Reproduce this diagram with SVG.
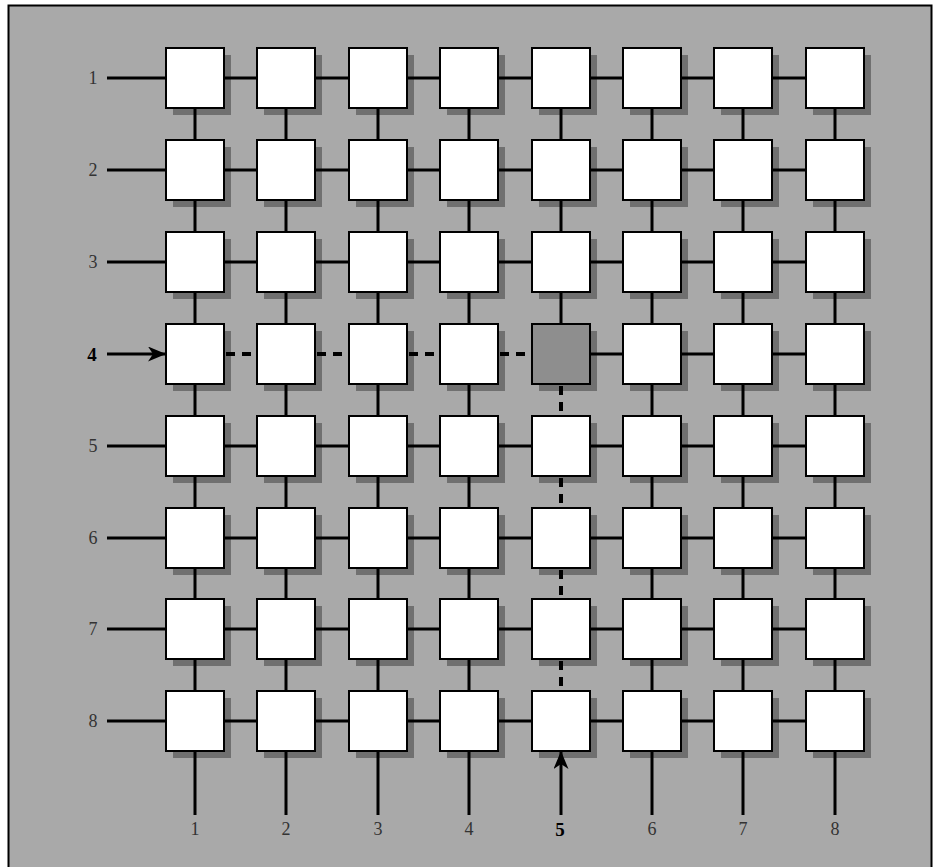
<svg xmlns="http://www.w3.org/2000/svg" width="935" height="867" viewBox="0 0 935 867">
<defs>
<style>
.box{fill:#ffffff;stroke:#000;stroke-width:2}
.hot{fill:#8e8e8e;stroke:#000;stroke-width:2}
.sh{fill:#707070}
.ln{stroke:#000;stroke-width:3;fill:none}
.dl{stroke:#000;stroke-width:4;fill:none;stroke-dasharray:9 7}
.lbl{font-family:"Liberation Serif","Times New Roman",serif;font-size:18px;fill:#333;text-anchor:middle}
.lblb{font-family:"Liberation Serif","Times New Roman",serif;font-size:19px;font-weight:bold;fill:#000;text-anchor:middle}
</style>
<marker id="ah" viewBox="0 0 18 15" refX="17" refY="7.5" markerWidth="18" markerHeight="15" markerUnits="userSpaceOnUse" orient="auto">
<path d="M0,0 L18,7.5 L0,15 L5,7.5 Z" fill="#000"/>
</marker>
</defs>
<rect x="0" y="0" width="935" height="867" fill="#fff"/>
<rect x="8.5" y="5.5" width="923" height="875" fill="#a9a9a9" stroke="#000" stroke-width="2"/>

<g id="shadows">
<g class="sh">
<rect x="173" y="55" width="58" height="60"/><rect x="264" y="55" width="58" height="60"/><rect x="356" y="55" width="58" height="60"/><rect x="447" y="55" width="58" height="60"/><rect x="539" y="55" width="58" height="60"/><rect x="630" y="55" width="58" height="60"/><rect x="721" y="55" width="58" height="60"/><rect x="813" y="55" width="58" height="60"/>
<rect x="173" y="147" width="58" height="60"/><rect x="264" y="147" width="58" height="60"/><rect x="356" y="147" width="58" height="60"/><rect x="447" y="147" width="58" height="60"/><rect x="539" y="147" width="58" height="60"/><rect x="630" y="147" width="58" height="60"/><rect x="721" y="147" width="58" height="60"/><rect x="813" y="147" width="58" height="60"/>
<rect x="173" y="239" width="58" height="60"/><rect x="264" y="239" width="58" height="60"/><rect x="356" y="239" width="58" height="60"/><rect x="447" y="239" width="58" height="60"/><rect x="539" y="239" width="58" height="60"/><rect x="630" y="239" width="58" height="60"/><rect x="721" y="239" width="58" height="60"/><rect x="813" y="239" width="58" height="60"/>
<rect x="173" y="331" width="58" height="60"/><rect x="264" y="331" width="58" height="60"/><rect x="356" y="331" width="58" height="60"/><rect x="447" y="331" width="58" height="60"/><rect x="539" y="331" width="58" height="60"/><rect x="630" y="331" width="58" height="60"/><rect x="721" y="331" width="58" height="60"/><rect x="813" y="331" width="58" height="60"/>
<rect x="173" y="423" width="58" height="60"/><rect x="264" y="423" width="58" height="60"/><rect x="356" y="423" width="58" height="60"/><rect x="447" y="423" width="58" height="60"/><rect x="539" y="423" width="58" height="60"/><rect x="630" y="423" width="58" height="60"/><rect x="721" y="423" width="58" height="60"/><rect x="813" y="423" width="58" height="60"/>
<rect x="173" y="515" width="58" height="60"/><rect x="264" y="515" width="58" height="60"/><rect x="356" y="515" width="58" height="60"/><rect x="447" y="515" width="58" height="60"/><rect x="539" y="515" width="58" height="60"/><rect x="630" y="515" width="58" height="60"/><rect x="721" y="515" width="58" height="60"/><rect x="813" y="515" width="58" height="60"/>
<rect x="173" y="606" width="58" height="60"/><rect x="264" y="606" width="58" height="60"/><rect x="356" y="606" width="58" height="60"/><rect x="447" y="606" width="58" height="60"/><rect x="539" y="606" width="58" height="60"/><rect x="630" y="606" width="58" height="60"/><rect x="721" y="606" width="58" height="60"/><rect x="813" y="606" width="58" height="60"/>
<rect x="173" y="698" width="58" height="60"/><rect x="264" y="698" width="58" height="60"/><rect x="356" y="698" width="58" height="60"/><rect x="447" y="698" width="58" height="60"/><rect x="539" y="698" width="58" height="60"/><rect x="630" y="698" width="58" height="60"/><rect x="721" y="698" width="58" height="60"/><rect x="813" y="698" width="58" height="60"/>
</g>
</g>

<g id="connectors">
<path class="ln" d="M107 78H166M224 78H257M315 78H349M407 78H440M498 78H532M590 78H623M681 78H714M772 78H806"/>
<path class="ln" d="M107 170H166M224 170H257M315 170H349M407 170H440M498 170H532M590 170H623M681 170H714M772 170H806"/>
<path class="ln" d="M107 262H166M224 262H257M315 262H349M407 262H440M498 262H532M590 262H623M681 262H714M772 262H806"/>
<path class="ln" d="M107 354H165" marker-end="url(#ah)"/>
<path class="dl" d="M226 354H257M317 354H349M409 354H440M500 354H532"/>
<path class="ln" d="M590 354H623M681 354H714M772 354H806"/>
<path class="ln" d="M107 446H166M224 446H257M315 446H349M407 446H440M498 446H532M590 446H623M681 446H714M772 446H806"/>
<path class="ln" d="M107 538H166M224 538H257M315 538H349M407 538H440M498 538H532M590 538H623M681 538H714M772 538H806"/>
<path class="ln" d="M107 629H166M224 629H257M315 629H349M407 629H440M498 629H532M590 629H623M681 629H714M772 629H806"/>
<path class="ln" d="M107 721H166M224 721H257M315 721H349M407 721H440M498 721H532M590 721H623M681 721H714M772 721H806"/>
<path class="ln" d="M195 108V140M195 200V232M195 292V324M195 384V416M195 476V508M195 568V599M195 659V691M195 751V815"/>
<path class="ln" d="M286 108V140M286 200V232M286 292V324M286 384V416M286 476V508M286 568V599M286 659V691M286 751V815"/>
<path class="ln" d="M378 108V140M378 200V232M378 292V324M378 384V416M378 476V508M378 568V599M378 659V691M378 751V815"/>
<path class="ln" d="M469 108V140M469 200V232M469 292V324M469 384V416M469 476V508M469 568V599M469 659V691M469 751V815"/>
<path class="ln" d="M561 108V140M561 200V232M561 292V324"/>
<path class="dl" d="M561 386V416M561 478V508M561 570V599M561 661V691"/>
<path class="ln" d="M561 815V752" marker-end="url(#ah)"/>
<path class="ln" d="M652 108V140M652 200V232M652 292V324M652 384V416M652 476V508M652 568V599M652 659V691M652 751V815"/>
<path class="ln" d="M743 108V140M743 200V232M743 292V324M743 384V416M743 476V508M743 568V599M743 659V691M743 751V815"/>
<path class="ln" d="M835 108V140M835 200V232M835 292V324M835 384V416M835 476V508M835 568V599M835 659V691M835 751V815"/>
</g>

<g id="nodes">
<g id="n11"><rect class="box" x="166" y="48" width="58" height="60"/></g>
<g id="n12"><rect class="box" x="257" y="48" width="58" height="60"/></g>
<g id="n13"><rect class="box" x="349" y="48" width="58" height="60"/></g>
<g id="n14"><rect class="box" x="440" y="48" width="58" height="60"/></g>
<g id="n15"><rect class="box" x="532" y="48" width="58" height="60"/></g>
<g id="n16"><rect class="box" x="623" y="48" width="58" height="60"/></g>
<g id="n17"><rect class="box" x="714" y="48" width="58" height="60"/></g>
<g id="n18"><rect class="box" x="806" y="48" width="58" height="60"/></g>
<g id="n21"><rect class="box" x="166" y="140" width="58" height="60"/></g>
<g id="n22"><rect class="box" x="257" y="140" width="58" height="60"/></g>
<g id="n23"><rect class="box" x="349" y="140" width="58" height="60"/></g>
<g id="n24"><rect class="box" x="440" y="140" width="58" height="60"/></g>
<g id="n25"><rect class="box" x="532" y="140" width="58" height="60"/></g>
<g id="n26"><rect class="box" x="623" y="140" width="58" height="60"/></g>
<g id="n27"><rect class="box" x="714" y="140" width="58" height="60"/></g>
<g id="n28"><rect class="box" x="806" y="140" width="58" height="60"/></g>
<g id="n31"><rect class="box" x="166" y="232" width="58" height="60"/></g>
<g id="n32"><rect class="box" x="257" y="232" width="58" height="60"/></g>
<g id="n33"><rect class="box" x="349" y="232" width="58" height="60"/></g>
<g id="n34"><rect class="box" x="440" y="232" width="58" height="60"/></g>
<g id="n35"><rect class="box" x="532" y="232" width="58" height="60"/></g>
<g id="n36"><rect class="box" x="623" y="232" width="58" height="60"/></g>
<g id="n37"><rect class="box" x="714" y="232" width="58" height="60"/></g>
<g id="n38"><rect class="box" x="806" y="232" width="58" height="60"/></g>
<g id="n41"><rect class="box" x="166" y="324" width="58" height="60"/></g>
<g id="n42"><rect class="box" x="257" y="324" width="58" height="60"/></g>
<g id="n43"><rect class="box" x="349" y="324" width="58" height="60"/></g>
<g id="n44"><rect class="box" x="440" y="324" width="58" height="60"/></g>
<g id="n45"><rect class="hot" x="532" y="324" width="58" height="60"/></g>
<g id="n46"><rect class="box" x="623" y="324" width="58" height="60"/></g>
<g id="n47"><rect class="box" x="714" y="324" width="58" height="60"/></g>
<g id="n48"><rect class="box" x="806" y="324" width="58" height="60"/></g>
<g id="n51"><rect class="box" x="166" y="416" width="58" height="60"/></g>
<g id="n52"><rect class="box" x="257" y="416" width="58" height="60"/></g>
<g id="n53"><rect class="box" x="349" y="416" width="58" height="60"/></g>
<g id="n54"><rect class="box" x="440" y="416" width="58" height="60"/></g>
<g id="n55"><rect class="box" x="532" y="416" width="58" height="60"/></g>
<g id="n56"><rect class="box" x="623" y="416" width="58" height="60"/></g>
<g id="n57"><rect class="box" x="714" y="416" width="58" height="60"/></g>
<g id="n58"><rect class="box" x="806" y="416" width="58" height="60"/></g>
<g id="n61"><rect class="box" x="166" y="508" width="58" height="60"/></g>
<g id="n62"><rect class="box" x="257" y="508" width="58" height="60"/></g>
<g id="n63"><rect class="box" x="349" y="508" width="58" height="60"/></g>
<g id="n64"><rect class="box" x="440" y="508" width="58" height="60"/></g>
<g id="n65"><rect class="box" x="532" y="508" width="58" height="60"/></g>
<g id="n66"><rect class="box" x="623" y="508" width="58" height="60"/></g>
<g id="n67"><rect class="box" x="714" y="508" width="58" height="60"/></g>
<g id="n68"><rect class="box" x="806" y="508" width="58" height="60"/></g>
<g id="n71"><rect class="box" x="166" y="599" width="58" height="60"/></g>
<g id="n72"><rect class="box" x="257" y="599" width="58" height="60"/></g>
<g id="n73"><rect class="box" x="349" y="599" width="58" height="60"/></g>
<g id="n74"><rect class="box" x="440" y="599" width="58" height="60"/></g>
<g id="n75"><rect class="box" x="532" y="599" width="58" height="60"/></g>
<g id="n76"><rect class="box" x="623" y="599" width="58" height="60"/></g>
<g id="n77"><rect class="box" x="714" y="599" width="58" height="60"/></g>
<g id="n78"><rect class="box" x="806" y="599" width="58" height="60"/></g>
<g id="n81"><rect class="box" x="166" y="691" width="58" height="60"/></g>
<g id="n82"><rect class="box" x="257" y="691" width="58" height="60"/></g>
<g id="n83"><rect class="box" x="349" y="691" width="58" height="60"/></g>
<g id="n84"><rect class="box" x="440" y="691" width="58" height="60"/></g>
<g id="n85"><rect class="box" x="532" y="691" width="58" height="60"/></g>
<g id="n86"><rect class="box" x="623" y="691" width="58" height="60"/></g>
<g id="n87"><rect class="box" x="714" y="691" width="58" height="60"/></g>
<g id="n88"><rect class="box" x="806" y="691" width="58" height="60"/></g>
</g>

<g id="labels">
<text class="lbl" x="93" y="84">1</text>
<text class="lbl" x="93" y="176">2</text>
<text class="lbl" x="93" y="268">3</text>
<text class="lblb" x="92" y="361">4</text>
<text class="lbl" x="93" y="452">5</text>
<text class="lbl" x="93" y="544">6</text>
<text class="lbl" x="93" y="635">7</text>
<text class="lbl" x="93" y="727">8</text>
<text class="lbl" x="195" y="835">1</text>
<text class="lbl" x="286" y="835">2</text>
<text class="lbl" x="378" y="835">3</text>
<text class="lbl" x="469" y="835">4</text>
<text class="lblb" x="560" y="836">5</text>
<text class="lbl" x="652" y="835">6</text>
<text class="lbl" x="743" y="835">7</text>
<text class="lbl" x="835" y="835">8</text>
</g>
</svg>
